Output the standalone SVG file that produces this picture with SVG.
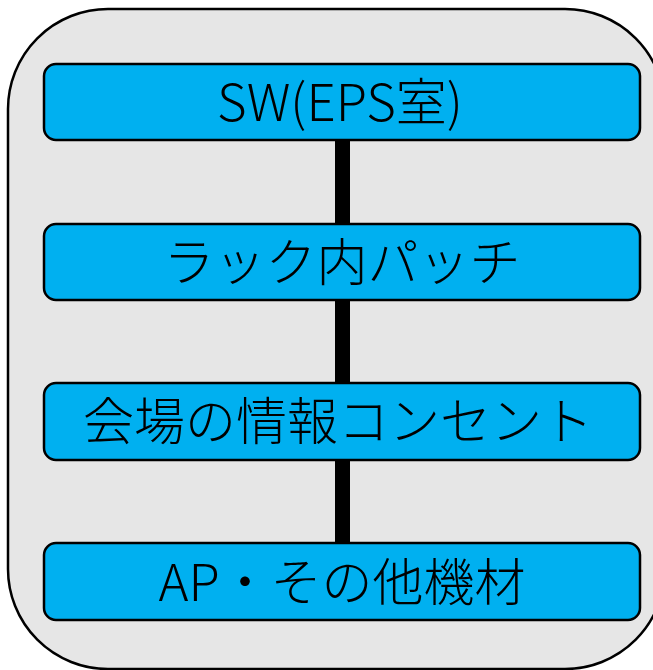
<svg xmlns="http://www.w3.org/2000/svg" width="653" height="670" viewBox="0 0 653 670">
<style>
.box{fill:#00B0F0;stroke:#000;stroke-width:2.5}
.lbl{font-family:"Noto Sans CJK JP","Noto Sans",sans-serif;font-size:51px;font-weight:300;fill:#000;text-anchor:middle}
</style>
<rect x="8" y="9" width="657" height="660" rx="100" ry="100" fill="#E6E6E6" stroke="#000" stroke-width="2.5"/>
<g id="connectors">
<rect x="335" y="140" width="15" height="84" fill="#000"/>
<rect x="335" y="300" width="15" height="83" fill="#000"/>
<rect x="335" y="460" width="15" height="83" fill="#000"/>
</g>
<g id="n1"><rect class="box" x="44" y="64" width="596" height="76" rx="12"/><text class="lbl" x="340" y="121">SW(EPS室)</text></g>
<g id="n2"><rect class="box" x="44" y="224" width="596" height="76" rx="12"/><text class="lbl" x="342" y="281">ラック内パッチ</text></g>
<g id="n3"><rect class="box" x="44" y="383" width="596" height="77" rx="12"/><text class="lbl" x="338" y="440">会場の情報コンセント</text></g>
<g id="n4"><rect class="box" x="44" y="543" width="596" height="77" rx="12"/><text class="lbl" x="342" y="601">AP・その他機材</text></g>
</svg>
